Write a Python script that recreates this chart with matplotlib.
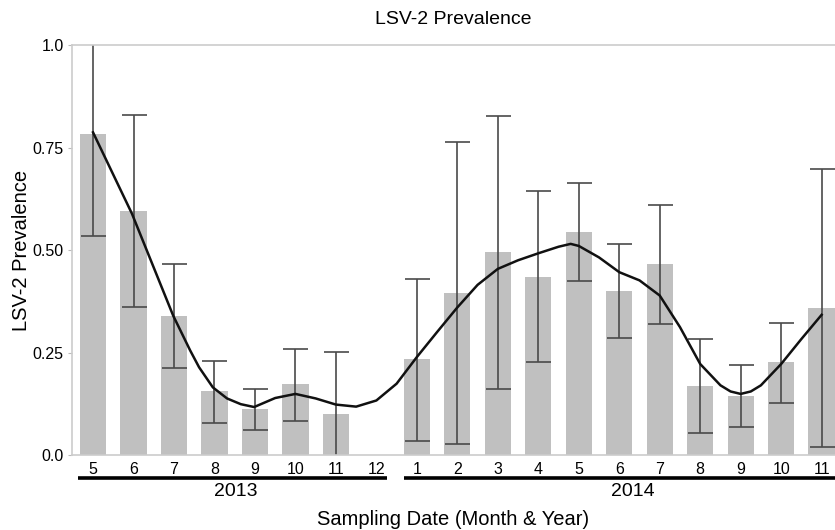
import numpy as np
import matplotlib.pyplot as plt
import matplotlib.transforms as mtransforms

plt.rcParams['font.family'] = ['Liberation Sans', 'DejaVu Sans']

# ---------------------------------------------------------------------------
# data
# ---------------------------------------------------------------------------
months = ['5', '6', '7', '8', '9', '10', '11', '12',
          '1', '2', '3', '4', '5', '6', '7', '8', '9', '10', '11']
years = ['2013', '2014']
n_2013 = 8

prevalence = [0.782, 0.596, 0.339, 0.155, 0.111, 0.172, 0.100, np.nan,
              0.234, 0.396, 0.495, 0.435, 0.545, 0.400, 0.465, 0.169, 0.143, 0.226, 0.358]
ci_low = [0.535, 0.360, 0.213, 0.079, 0.060, 0.082, -0.02, np.nan,
          0.035, 0.026, 0.162, 0.226, 0.425, 0.286, 0.319, 0.054, 0.068, 0.126, 0.020]
ci_high = [1.03, 0.830, 0.465, 0.229, 0.162, 0.258, 0.251, np.nan,
           0.430, 0.764, 0.827, 0.644, 0.663, 0.515, 0.609, 0.282, 0.220, 0.321, 0.697]

# smoothed trend, read at positions along the month axis
trend_pos = [0, 0.96, 1.98, 2.4, 2.62, 2.96, 3.31, 3.65, 3.98, 4.5, 5.0, 5.5, 6.0,
             6.5, 7.0, 7.5, 8.0, 8.5, 9.0, 9.5, 10.0, 10.5, 11.0, 11.5, 11.8, 12.0,
             12.5, 13.0, 13.5, 14.0, 14.5, 15.0, 15.5, 15.75, 16.0, 16.25, 16.5,
             17.0, 17.5, 18.0]
trend_val = [0.787, 0.589, 0.340, 0.255, 0.214, 0.165, 0.138, 0.124, 0.117, 0.139,
             0.149, 0.138, 0.123, 0.118, 0.133, 0.174, 0.239, 0.300, 0.360, 0.415,
             0.454, 0.475, 0.492, 0.508, 0.515, 0.510, 0.482, 0.446, 0.426, 0.389,
             0.312, 0.222, 0.170, 0.155, 0.149, 0.155, 0.170, 0.222, 0.283, 0.342]

# ---------------------------------------------------------------------------
# plot
# ---------------------------------------------------------------------------
fig = plt.figure(figsize=(8.35, 5.3), dpi=100)
ax = fig.add_axes([0.0862, 0.1415, 0.9138, 0.7735])

x = np.arange(len(months))
vals = np.array(prevalence)
err = [vals - np.array(ci_low), np.array(ci_high) - vals]

ax.bar(x, vals, width=0.65, color='#c0c0c0', zorder=1)
ax.errorbar(x, vals, yerr=err, fmt='none', ecolor='#4a4a4a', elinewidth=1.2,
            capsize=9, capthick=1.2, zorder=2)
ax.plot(trend_pos, trend_val, color='#111111', linewidth=1.8, zorder=3,
        solid_joinstyle='round')

ax.set_xlim(-0.52, 18.33)
ax.set_ylim(0, 1.0)

ax.set_yticks([0, 0.25, 0.5, 0.75, 1.0])
ax.set_yticklabels(['0.0', '0.25', '0.50', '0.75', '1.0'], fontsize=11.5)
ax.tick_params(axis='y', length=3, color='#bbbbbb', pad=3)
ax.set_xticks(x)
ax.set_xticklabels(months, fontsize=11.5)
ax.tick_params(axis='x', length=0, pad=5)

for side in ['left', 'top', 'bottom']:
    ax.spines[side].set_color('#cccccc')
    ax.spines[side].set_linewidth(1.2)
ax.spines['right'].set_visible(False)

ax.set_title('LSV-2 Prevalence', fontsize=14, pad=15)
ax.set_ylabel('LSV-2 Prevalence', fontsize=14.5, labelpad=1)
ax.set_xlabel('Sampling Date (Month & Year)', fontsize=14.5, labelpad=24)

# year bars under the month labels
trans = mtransforms.blended_transform_factory(ax.transData, ax.transAxes)
spans = [(-0.37, n_2013 - 1 + 0.26), (n_2013 - 0.32, len(months) - 0.67)]
label_pos = [3.53, 13.33]
for (a, b), yr, lx in zip(spans, years, label_pos):
    ax.plot([a, b], [-0.056, -0.056], color='black', linewidth=2.6,
            transform=trans, clip_on=False, solid_capstyle='butt')
    ax.text(lx, -0.09, yr, transform=trans, ha='center', va='center', fontsize=14)

fig.savefig('out.png', dpi=100)
